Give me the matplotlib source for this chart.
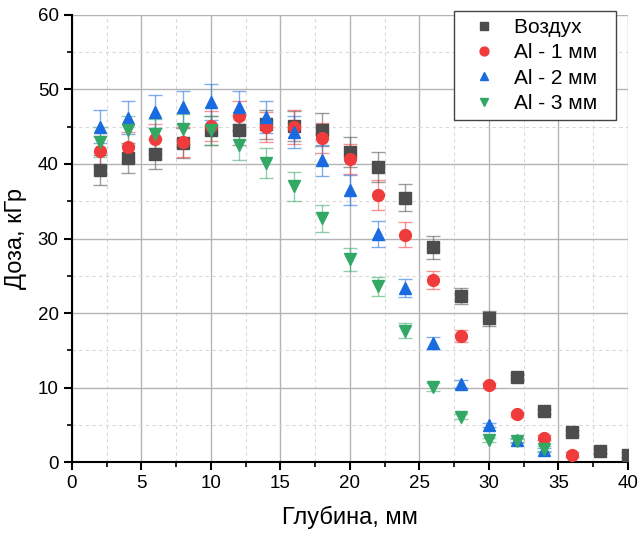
import matplotlib.pyplot as plt
from matplotlib.ticker import MultipleLocator

plt.rcParams['font.family'] = ['Liberation Sans', 'DejaVu Sans']

depth_air = [2, 4, 6, 8, 10, 12, 14, 16, 18, 20, 22, 24, 26, 28, 30, 32, 34, 36, 38, 40]
dose_air = [39.2, 40.8, 41.3, 42.8, 44.5, 44.6, 45.3, 45.1, 44.6, 41.6, 39.6, 35.5, 28.8, 22.3, 19.3, 11.4, 6.8, 4.0, 1.5, 1.0]
err_air = [2.0, 2.0, 2.0, 2.0, 2.0, 2.0, 2.0, 2.0, 2.2, 2.0, 2.0, 1.8, 1.5, 1.1, 1.0, 0.3, 0.3, 0.3, 0.3, 0.3]

depth_al1 = [2, 4, 6, 8, 10, 12, 14, 16, 18, 20, 22, 24, 26, 28, 30, 32, 34, 36]
dose_al1 = [41.7, 42.3, 43.4, 43.0, 45.1, 46.4, 45.0, 45.0, 43.5, 40.7, 35.8, 30.5, 24.4, 16.9, 10.3, 6.4, 3.3, 1.0]
err_al1 = [2.0, 2.0, 2.0, 2.0, 2.0, 2.0, 2.0, 2.3, 2.0, 2.0, 2.0, 1.7, 1.2, 0.8, 0.3, 0.3, 0.3, 0.3]

depth_al2 = [2, 4, 6, 8, 10, 12, 14, 16, 18, 20, 22, 24, 26, 28, 30, 32, 34]
dose_al2 = [45.0, 46.2, 47.0, 47.6, 48.3, 47.6, 46.3, 44.3, 40.5, 36.5, 30.6, 23.4, 16.0, 10.5, 5.0, 3.0, 1.6]
err_al2 = [2.2, 2.2, 2.2, 2.2, 2.4, 2.2, 2.2, 2.2, 2.1, 2.0, 1.8, 1.2, 0.8, 0.5, 0.3, 0.3, 0.3]

depth_al3 = [2, 4, 6, 8, 10, 12, 14, 16, 18, 20, 22, 24, 26, 28, 30, 32, 34]
dose_al3 = [43.0, 44.5, 44.0, 44.7, 44.5, 42.6, 40.1, 37.0, 32.7, 27.2, 23.6, 17.6, 10.1, 6.1, 3.0, 2.8, 1.8]
err_al3 = [2.0, 2.0, 2.0, 2.0, 2.0, 2.0, 2.0, 1.9, 1.8, 1.5, 1.3, 1.0, 0.5, 0.3, 0.3, 0.3, 0.3]

series = [
    ('Воздух', depth_air, dose_air, err_air, '#4d4d4d', 's'),
    ('Al - 1 мм', depth_al1, dose_al1, err_al1, '#ef3b3b', 'o'),
    ('Al - 2 мм', depth_al2, dose_al2, err_al2, '#1a6be0', '^'),
    ('Al - 3 мм', depth_al3, dose_al3, err_al3, '#33a865', 'v'),
]

fig = plt.figure(figsize=(6.42, 5.33), dpi=100)
ax = fig.add_axes([0.112, 0.133, 0.866, 0.839])

for name, x, y, e, c, m in series:
    ax.errorbar(x, y, yerr=e, fmt='none', ecolor=c, alpha=0.55,
                elinewidth=1, capsize=5, capthick=1, zorder=2)
    # trailing spaces give the legend its wider right margin
    ax.plot(x, y, ls='none', marker=m, color=c, markersize=8.5,
            label=name + '  ', zorder=3)

ax.set_xlim(0, 40)
ax.set_ylim(0, 60)
ax.xaxis.set_major_locator(MultipleLocator(5))
ax.xaxis.set_minor_locator(MultipleLocator(2.5))
ax.yaxis.set_major_locator(MultipleLocator(10))
ax.yaxis.set_minor_locator(MultipleLocator(5))
ax.grid(which='major', color='#b4b4b4', lw=1)
ax.grid(which='minor', color='#d8d8d8', lw=0.8, ls=(0, (3, 3)))
ax.set_axisbelow(True)

for s in ['top', 'right']:
    ax.spines[s].set_visible(False)
for s in ['left', 'bottom']:
    ax.spines[s].set_linewidth(1.5)
ax.tick_params(which='major', direction='out', length=6, width=1.5, labelsize=13.5)
ax.tick_params(which='minor', direction='out', length=3.5, width=1.2)

ax.set_xlabel('Глубина, мм', fontsize=17, labelpad=10)
ax.set_ylabel('Доза, кГр', fontsize=17, labelpad=8)

leg = ax.legend(loc='upper right', bbox_to_anchor=(0.978, 1.009), fontsize=15,
                fancybox=False, edgecolor='#444444', framealpha=1, borderaxespad=0,
                handletextpad=0.3, labelspacing=0.3, borderpad=0.35,
                markerscale=0.75, handlelength=2.2)
leg.get_frame().set_linewidth(1)

fig.savefig('out.png', dpi=100)
